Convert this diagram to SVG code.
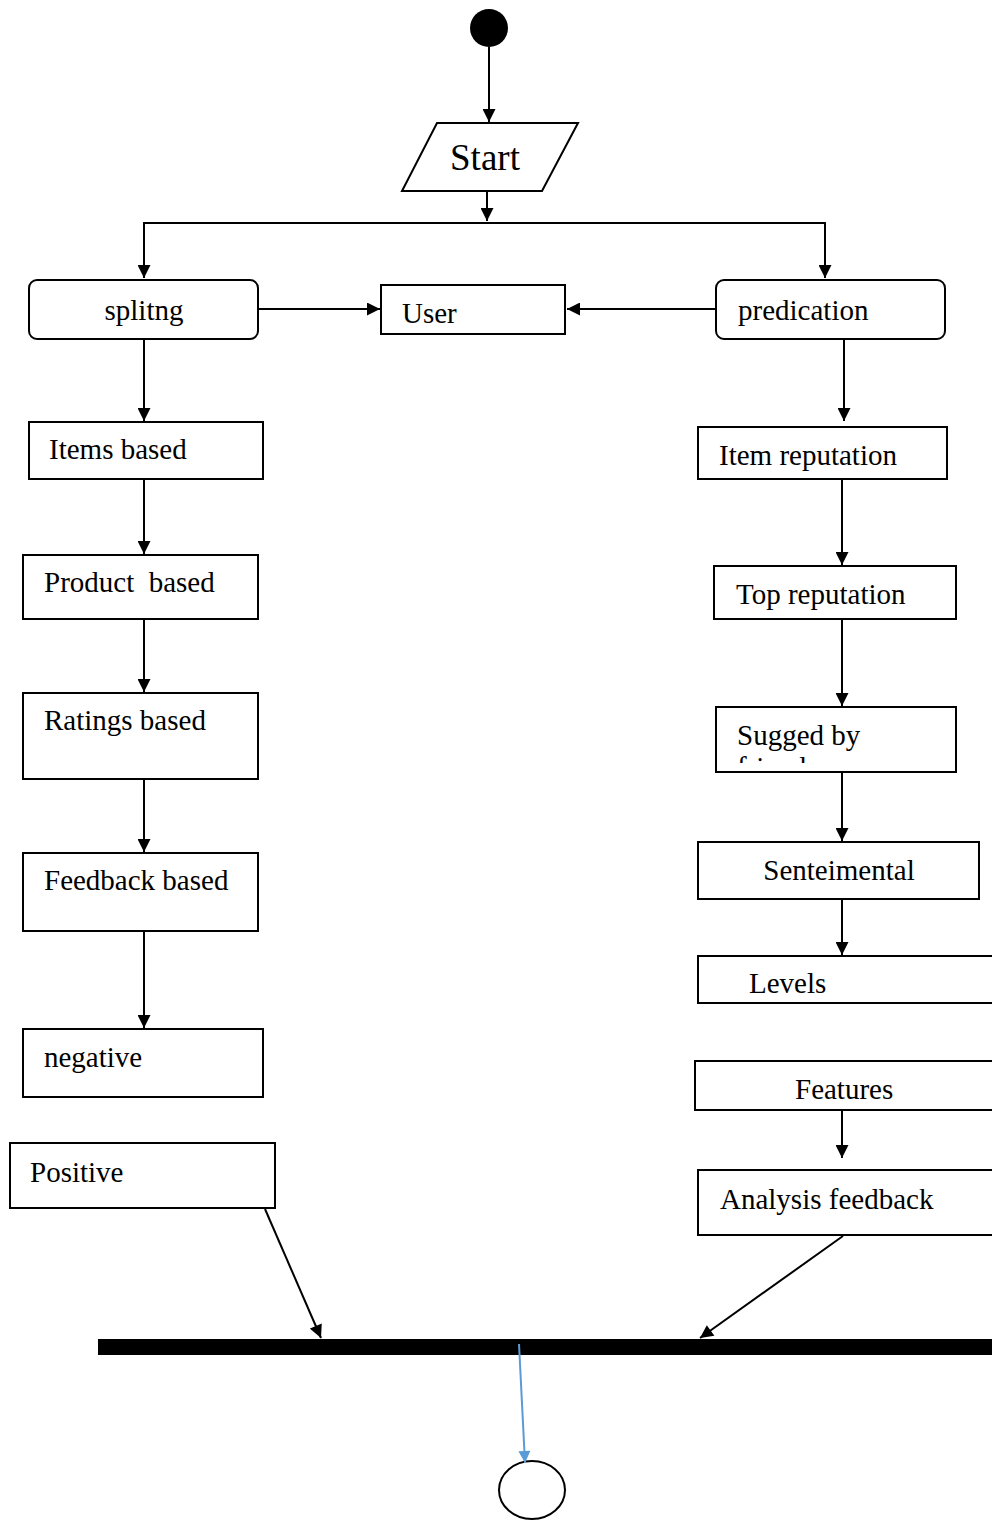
<svg xmlns="http://www.w3.org/2000/svg" width="992" height="1520" viewBox="0 0 992 1520">
  <style>
    .box { fill: #fff; stroke: #000; stroke-width: 2; }
    .lbl { font-family: 'Liberation Serif', 'DejaVu Serif', serif; font-size: 29px; fill: #000; white-space: pre; }
    .edge { stroke: #000; stroke-width: 2; fill: none; marker-end: url(#arr); }
  </style>
  <defs>
    <marker id="arr" viewBox="0 0 10 10" refX="10" refY="5" markerWidth="14" markerHeight="13" markerUnits="userSpaceOnUse" orient="auto">
      <path d="M0,0 L10,5 L0,10 z" fill="#000"/>
    </marker>
    <marker id="arrBlue" viewBox="0 0 10 10" refX="10" refY="5" markerWidth="14" markerHeight="12" markerUnits="userSpaceOnUse" orient="auto">
      <path d="M0,0 L10,5 L0,10 z" fill="#5b9bd5"/>
    </marker>
    <clipPath id="suggedClip"><rect x="717" y="708" width="238" height="55"/></clipPath>
  </defs>

  <!-- start node -->
  <g id="initial"><circle cx="489" cy="28" r="19" fill="#000"/></g>

  <g id="start">
    <polygon class="box" points="437,123 578,123 542,191 402,191"/>
    <text class="lbl" x="485" y="170" text-anchor="middle" style="font-size:37px">Start</text>
  </g>

  <g id="splitng">
    <rect class="box" x="29" y="280" width="229" height="59" rx="8"/>
    <text class="lbl" x="144" y="320" text-anchor="middle">splitng</text>
  </g>

  <g id="user">
    <rect class="box" x="381" y="285" width="184" height="49"/>
    <text class="lbl" x="402" y="323">User</text>
  </g>

  <g id="predication">
    <rect class="box" x="716" y="280" width="229" height="59" rx="8"/>
    <text class="lbl" x="738" y="320">predication</text>
  </g>

  <!-- left column -->
  <g id="items-based">
    <rect class="box" x="29" y="422" width="234" height="57"/>
    <text class="lbl" x="49" y="459">Items based</text>
  </g>
  <g id="product-based">
    <rect class="box" x="23" y="555" width="235" height="64"/>
    <text class="lbl" x="44" y="592">Product  based</text>
  </g>
  <g id="ratings-based">
    <rect class="box" x="23" y="693" width="235" height="86"/>
    <text class="lbl" x="44" y="730">Ratings based</text>
  </g>
  <g id="feedback-based">
    <rect class="box" x="23" y="853" width="235" height="78"/>
    <text class="lbl" x="44" y="890">Feedback based</text>
  </g>
  <g id="negative">
    <rect class="box" x="23" y="1029" width="240" height="68"/>
    <text class="lbl" x="44" y="1067">negative</text>
  </g>
  <g id="positive">
    <rect class="box" x="10" y="1143" width="265" height="65"/>
    <text class="lbl" x="30" y="1182">Positive</text>
  </g>

  <!-- right column -->
  <g id="item-reputation">
    <rect class="box" x="698" y="427" width="249" height="52"/>
    <text class="lbl" x="719" y="465">Item reputation</text>
  </g>
  <g id="top-reputation">
    <rect class="box" x="714" y="566" width="242" height="53"/>
    <text class="lbl" x="736" y="604">Top reputation</text>
  </g>
  <g id="sugged-by">
    <rect class="box" x="716" y="707" width="240" height="65"/>
    <g clip-path="url(#suggedClip)">
      <text class="lbl" x="737" y="745">Sugged by</text>
      <text class="lbl" x="737" y="777">friends</text>
    </g>
  </g>
  <g id="senteimental">
    <rect class="box" x="698" y="842" width="281" height="57"/>
    <text class="lbl" x="839" y="880" text-anchor="middle">Senteimental</text>
  </g>
  <g id="levels">
    <rect class="box" x="698" y="956" width="300" height="47"/>
    <text class="lbl" x="749" y="993">Levels</text>
  </g>
  <g id="features">
    <rect class="box" x="695" y="1061" width="303" height="49"/>
    <text class="lbl" x="795" y="1099">Features</text>
  </g>
  <g id="analysis-feedback">
    <rect class="box" x="698" y="1170" width="300" height="65"/>
    <text class="lbl" x="720" y="1209">Analysis feedback</text>
  </g>

  <!-- join bar and end node -->
  <g id="join"><rect x="98" y="1339" width="900" height="16" fill="#000"/></g>
  <g id="final"><ellipse cx="532" cy="1490" rx="33" ry="29" fill="#fff" stroke="#000" stroke-width="2"/></g>

  <g id="connectors">
    <line class="edge" x1="489" y1="47" x2="489" y2="122"/>
    <line class="edge" x1="487" y1="191" x2="487" y2="221"/>
    <polyline points="144,240 144,223 825,223 825,240" fill="none" stroke="#000" stroke-width="2"/>
    <line class="edge" x1="144" y1="240" x2="144" y2="278"/>
    <line class="edge" x1="825" y1="240" x2="825" y2="278"/>
    <line class="edge" x1="258" y1="309" x2="380" y2="309"/>
    <line class="edge" x1="715" y1="309" x2="567" y2="309"/>
    <line class="edge" x1="144" y1="339" x2="144" y2="421"/>
    <line class="edge" x1="144" y1="479" x2="144" y2="554"/>
    <line class="edge" x1="144" y1="619" x2="144" y2="692"/>
    <line class="edge" x1="144" y1="779" x2="144" y2="852"/>
    <line class="edge" x1="144" y1="931" x2="144" y2="1028"/>
    <line class="edge" x1="844" y1="339" x2="844" y2="421"/>
    <line class="edge" x1="842" y1="479" x2="842" y2="565"/>
    <line class="edge" x1="842" y1="619" x2="842" y2="706"/>
    <line class="edge" x1="842" y1="772" x2="842" y2="841"/>
    <line class="edge" x1="842" y1="899" x2="842" y2="955"/>
    <line class="edge" x1="842" y1="1110" x2="842" y2="1158"/>
    <line class="edge" x1="265" y1="1209" x2="321" y2="1338"/>
    <line class="edge" x1="843" y1="1236" x2="700" y2="1338"/>
    <line x1="519" y1="1344" x2="525" y2="1463" stroke="#5b9bd5" stroke-width="2" marker-end="url(#arrBlue)"/>
  </g>
</svg>
